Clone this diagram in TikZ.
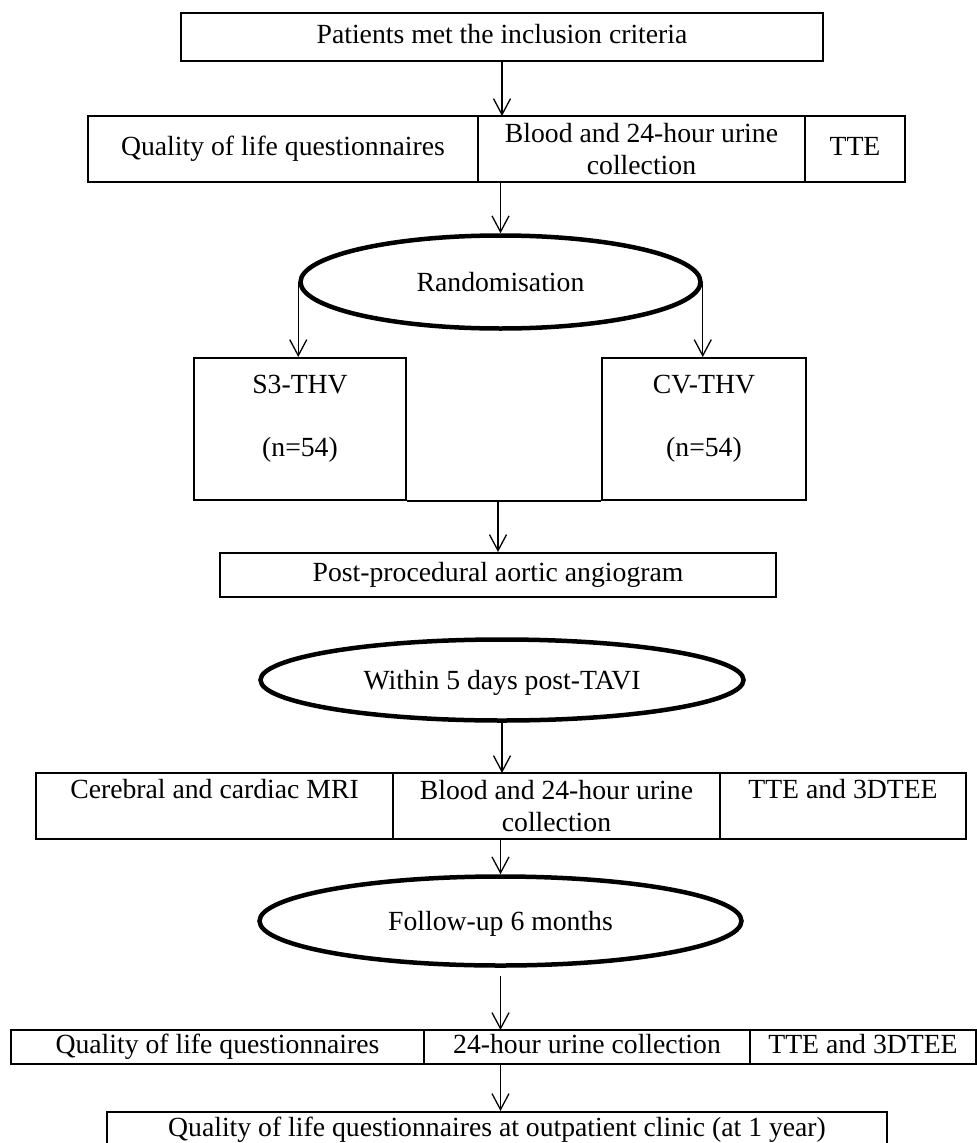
\documentclass[tikz,border=0pt]{standalone}
\usepackage{fontspec}
\setmainfont{Liberation Serif}
\usepackage{tikz}
\usetikzlibrary{arrows.meta, calc, shapes.geometric, positioning}

\begin{document}
\begin{tikzpicture}[x=1pt, y=-1pt, >={Straight Barb[length=16pt,width=17pt]},
    font=\fontsize{27.7}{32}\selectfont,
    box/.style={draw, line width=2pt, inner sep=0pt},
    cell/.style={draw, line width=1.4pt, inner sep=0pt, outer sep=0pt, align=center},
    single/.style={text height=19pt, text depth=6pt},
    topline/.style={text height=19pt, text depth=35pt},
    oval/.style={draw, ellipse, line width=4.5pt, inner sep=0pt, text height=19pt, text depth=0pt},
    flow/.style={->, line width=1.3pt}]
    \useasboundingbox (0,0) rectangle (977,1143);

    % inclusion
    \node[box, single, minimum width=642pt, minimum height=48pt] (incl) at (502,37) {Patients met the inclusion criteria};

    % baseline measurements
    \node[cell, single, minimum width=390pt, minimum height=66pt] (qol1) at (283,149) {Quality of life questionnaires};
    \node[cell, minimum width=327pt, minimum height=66pt] (blood1) at (641.5,149) {Blood and 24-hour urine\\collection};
    \node[cell, single, minimum width=100pt, minimum height=66pt] (tte1) at (855,149) {TTE};
    \draw[line width=2pt] (qol1.north west) rectangle (tte1.south east);

    % randomisation and the two arms
    \node[oval, minimum width=400pt, minimum height=93pt] (rand) at (500.5,282) {Randomisation};
    \node[box, minimum width=212pt, text height=35pt, text depth=107pt] (s3) at (300,429)
        {\begin{tabular}[t]{@{}c@{}}S3-THV\\[31pt](n=54)\end{tabular}};
    \node[box, minimum width=204pt, text height=35pt, text depth=107pt] (cv) at (704,429)
        {\begin{tabular}[t]{@{}c@{}}CV-THV\\[31pt](n=54)\end{tabular}};

    % angiogram
    \node[box, single, minimum width=556pt, minimum height=44pt] (post) at (498,575) {Post-procedural aortic angiogram};

    % within 5 days
    \node[oval, minimum width=483pt, minimum height=81pt] (within) at (502,680) {Within 5 days post-TAVI};
    \node[cell, topline, minimum width=357pt, minimum height=66pt] (mri2) at (214.5,806) {Cerebral and cardiac MRI};
    \node[cell, minimum width=327pt, minimum height=66pt] (blood2) at (556.5,806) {Blood and 24-hour urine\\collection};
    \node[cell, topline, minimum width=246pt, minimum height=66pt] (tte2) at (843,806) {TTE and 3DTEE};
    \draw[line width=2pt] (mri2.north west) rectangle (tte2.south east);

    % follow-up
    \node[oval, minimum width=482pt, minimum height=89pt] (follow) at (500.5,921) {Follow-up 6 months};
    \node[cell, single, minimum width=413pt, minimum height=34pt] (qol3) at (217.5,1047) {Quality of life questionnaires};
    \node[cell, single, minimum width=326pt, minimum height=34pt] (urine3) at (587,1047) {24-hour urine collection};
    \node[cell, single, minimum width=226pt, minimum height=34pt] (tte3) at (863,1047) {TTE and 3DTEE};
    \draw[line width=2pt] (qol3.north west) rectangle (tte3.south east);
    \node[box, single, minimum width=780pt, minimum height=36pt] (clinic) at (497,1130) {Quality of life questionnaires at outpatient clinic (at 1 year)};

    % arrows
    \draw[flow] (incl.south) -- (incl.south |- blood1.north);
    \draw[flow] (rand.north |- qol1.south) -- (rand.north);
    \draw[flow] (rand.west) -- (rand.west |- s3.north);
    \draw[flow] (rand.east) -- (rand.east |- cv.north);
    \draw[line width=1.4pt] (s3.south east) -- (cv.south west);
    \draw[flow] (post.north |- s3.south) -- (post.north);
    \draw[flow] (within.south) -- (within.south |- blood2.north);
    \draw[flow] (follow.north |- blood2.south) -- (follow.north);
    \draw[flow, shorten <=8pt] (follow.south) -- (follow.south |- urine3.north);
    \draw[flow] (follow.south |- urine3.south) -- (follow.south |- clinic.north);
\end{tikzpicture}
\end{document}
